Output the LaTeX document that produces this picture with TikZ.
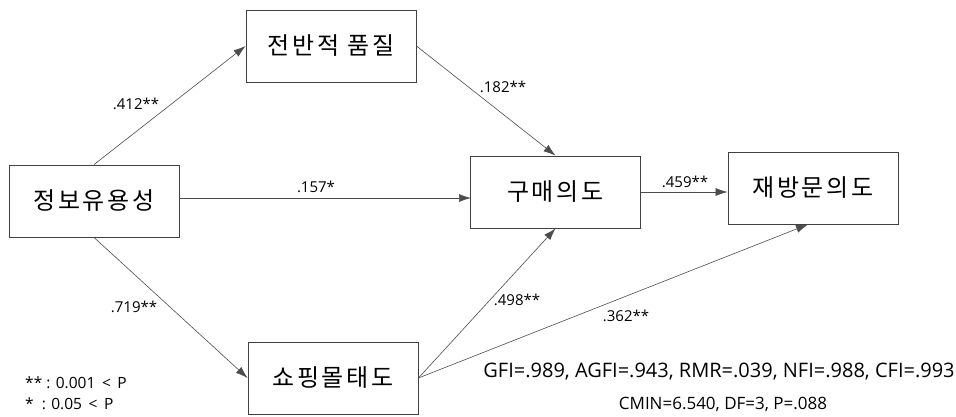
\documentclass[tikz,border=0pt]{standalone}
\usepackage{fontspec}
\setmainfont{Open Sans}
\newfontfamily\kr[LetterSpace=12]{Noto Sans CJK KR}
\usetikzlibrary{arrows.meta}
\begin{document}
\begin{tikzpicture}[x=1pt,y=-1pt,
  box/.style={draw=black!75, line width=0.9pt, minimum width=170pt, minimum height=72pt, inner sep=0pt, font=\kr\fontsize{24}{24}\selectfont},
  conn/.style={draw=black!70, line width=0.6pt, -{Latex[length=12pt,width=8pt]}},
  lab/.style={font=\fontsize{15}{15}\selectfont, inner sep=0pt}]
\useasboundingbox (0,0) rectangle (956,416);
\node[box] (info) at (94,201) {정보유용성};
\node[box] (qual) at (331,46) {전반적 품질};
\node[box] (buy) at (555.5,192) {구매의도};
\node[box] (rev) at (813,188) {재방문의도};
\node[box] (mall) at (333,378) {쇼핑몰태도};
\coordinate (buyW) at (471,198);
\coordinate (infoE) at (179,198);
\draw[conn] (info.north) -- (qual.west);
\draw[conn] (info.south) -- (mall.west);
\draw[conn] (infoE) -- (buyW);
\draw[conn] (qual.east) -- (buy.north);
\draw[conn] (mall.east) -- (buy.south);
\draw[conn] (mall.east) -- ([xshift=-5pt]rev.south);
\draw[conn] (buy.east) -- (buy.east -| rev.west);
\node[lab] (l1) at (136,104) {.412**};
\node[lab] (l2) at (503,87) {.182**};
\node[lab] (l3) at (316,187) {.157*};
\node[lab] (l4) at (685,182) {.459**};
\node[lab] (l5) at (134,307) {.719**};
\node[lab] (l6) at (517,300) {.498**};
\node[lab] (l7) at (626,316) {.362**};
\node[font=\fontsize{20}{20}\selectfont, inner sep=0pt] (fit) at (719,372) {GFI=.989, AGFI=.943, RMR=.039, NFI=.988, CFI=.993};
\node[font=\fontsize{17}{17}\selectfont, inner sep=0pt] (cmin) at (723,404) {CMIN=6.540, DF=3, P=.088};
\node[font=\fontsize{15.5}{15.5}\selectfont, inner sep=0pt, anchor=west] (leg1) at (25,383) {** : 0.001 \,<\, P};
\node[font=\fontsize{15.5}{15.5}\selectfont, inner sep=0pt, anchor=west] (leg2) at (25,404) {*\ \ : 0.05 \,<\, P};
\end{tikzpicture}
\end{document}
